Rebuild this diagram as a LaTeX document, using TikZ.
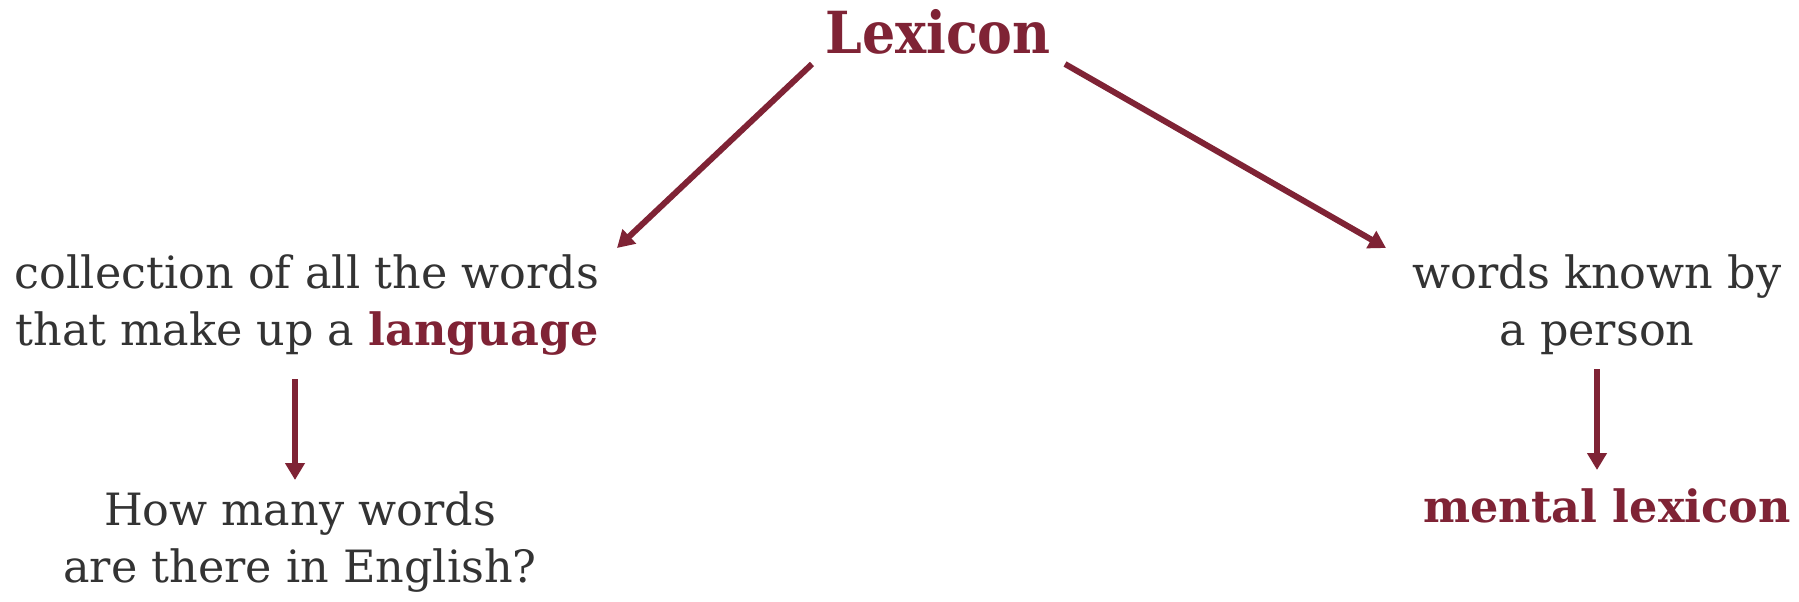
\documentclass[tikz,border=0pt]{standalone}
\usepackage{fontspec}
\setmainfont{DejaVu Serif}
\newfontfamily\condfont{DejaVu Serif Condensed}
\usetikzlibrary{arrows.meta}
\definecolor{maroon}{HTML}{7F2335}
\definecolor{txt}{HTML}{333333}
\begin{document}
\begin{tikzpicture}[x=1pt,y=-1pt,
 lbl/.style={text=txt,align=center,inner sep=0pt,font=\fontsize{44.5}{57}\selectfont},
 hd/.style={text=maroon,font=\condfont\bfseries\fontsize{58}{60}\selectfont,inner sep=0pt},
 em/.style={text=maroon,font=\bfseries\fontsize{44.5}{57}\selectfont,inner sep=0pt},
 conn/.style={draw=maroon,line width=6pt,-{Triangle[width=19pt,length=17pt]}}]
\fill[white] (0,0) rectangle (1799,602);
\useasboundingbox (0,0) rectangle (1799,602);
\node[hd,anchor=base] (lex) at (938,54) {Lexicon};
\node[lbl] (lang) at (307,305) {collection of all the words\\that make up a {\bfseries\color{maroon}language}};
\node[lbl] (pers) at (1597,305) {words known by\\a person};
\node[lbl] (eng) at (300,542) {How many words\\are there in English?};
\node[em,anchor=base] (ment) at (1607,522) {mental lexicon};
\coordinate (a1s) at (812,64);
\coordinate (a1e) at (617,248);
\coordinate (a2s) at (1065,64);
\coordinate (a2e) at (1386,248);
\coordinate (a3s) at (295,379);
\coordinate (a3e) at (295,480);
\coordinate (a4s) at (1597,369);
\coordinate (a4e) at (1597,470);
\draw[conn] (a1s) -- (a1e);
\draw[conn] (a2s) -- (a2e);
\draw[conn] (a3s) -- (a3e);
\draw[conn] (a4s) -- (a4e);
\end{tikzpicture}
\end{document}
